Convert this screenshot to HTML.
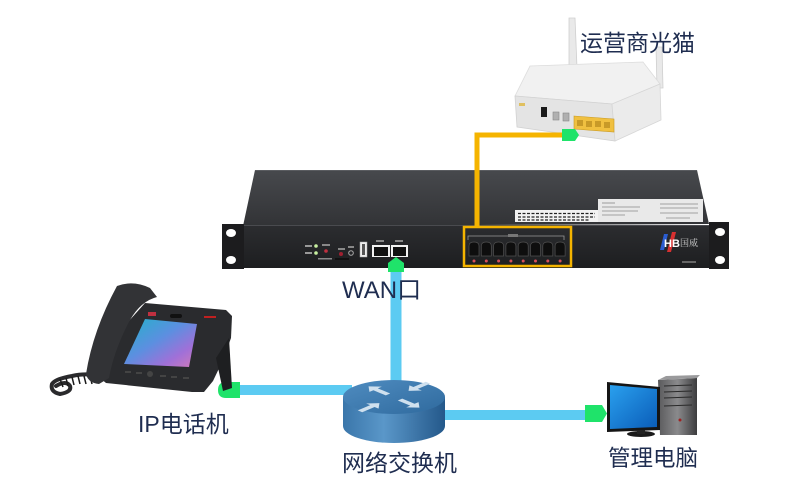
<!DOCTYPE html>
<html><head><meta charset="utf-8"><style>
html,body{margin:0;padding:0;background:#fff;}
svg{display:block;}
.lbl{font-family:"Liberation Sans","Noto Sans CJK SC",sans-serif;fill:#1f2d50;}
</style></head><body>
<svg width="800" height="500" viewBox="0 0 800 500" xmlns="http://www.w3.org/2000/svg">
<defs>
  <linearGradient id="topface" x1="0" y1="0" x2="0" y2="1">
    <stop offset="0" stop-color="#47494d"/><stop offset="1" stop-color="#323336"/>
  </linearGradient>
  <linearGradient id="front" x1="0" y1="0" x2="0" y2="1">
    <stop offset="0" stop-color="#2c2d30"/><stop offset="1" stop-color="#1d1e20"/>
  </linearGradient>
  <linearGradient id="rtop" x1="0" y1="0" x2="1" y2="1">
    <stop offset="0" stop-color="#4f8cc0"/><stop offset="1" stop-color="#2f6a9e"/>
  </linearGradient>
  <linearGradient id="rside" x1="0" y1="0" x2="1" y2="0">
    <stop offset="0" stop-color="#3a76aa"/><stop offset="0.4" stop-color="#5a97c9"/><stop offset="1" stop-color="#24588a"/>
  </linearGradient>
  <linearGradient id="scr" x1="0" y1="0" x2="1" y2="1">
    <stop offset="0" stop-color="#20b3c9"/><stop offset="0.45" stop-color="#5c8fe0"/><stop offset="0.75" stop-color="#a070d8"/><stop offset="1" stop-color="#d27ab8"/>
  </linearGradient>
  <linearGradient id="pcs" x1="0" y1="0" x2="1" y2="1">
    <stop offset="0" stop-color="#2aa0ee"/><stop offset="1" stop-color="#0a5cb8"/>
  </linearGradient>
  <linearGradient id="tower" x1="0" y1="0" x2="1" y2="0">
    <stop offset="0" stop-color="#5a5a5c"/><stop offset="0.5" stop-color="#8a8a8c"/><stop offset="1" stop-color="#3c3c3e"/>
  </linearGradient>
</defs>

<!-- ===== ONT (optical modem) ===== -->
<polygon points="569,18 575,18 577,68 569,68" fill="#e9e9e9" stroke="#cfcfcf" stroke-width="0.8"/>
<polygon points="656,47 662,47 663,88 657,88" fill="#e9e9e9" stroke="#cfcfcf" stroke-width="0.8"/>
<polygon points="530,66 643,62 660,84 612,104 515,96" fill="#f1f1f1" stroke="#dcdcdc" stroke-width="0.8"/>
<polygon points="515,96 612,104 615,141 517,127" fill="#e4e4e4" stroke="#d2d2d2" stroke-width="0.8"/>
<polygon points="612,104 660,84 661,120 615,141" fill="#ebebeb" stroke="#d6d6d6" stroke-width="0.8"/>
<rect x="519" y="103" width="6" height="3" fill="#e0c060"/>
<rect x="541" y="107" width="6" height="10" fill="#1a1a1a"/>
<rect x="553" y="112" width="6" height="8" fill="#b0b0b0" stroke="#888" stroke-width="0.6"/>
<rect x="563" y="113" width="6" height="8" fill="#b0b0b0" stroke="#888" stroke-width="0.6"/>
<polygon points="574,116 614,119 614,132 574,129" fill="#f0c040" stroke="#c99a20" stroke-width="0.6"/>
<rect x="577" y="120" width="6" height="6" fill="#c89a28"/>
<rect x="586" y="121" width="6" height="6" fill="#c89a28"/>
<rect x="595" y="121" width="6" height="6" fill="#c89a28"/>
<rect x="604" y="122" width="6" height="6" fill="#c89a28"/>

<!-- ===== Rack device ===== -->
<polygon points="255,170 697,170 709,224 243,226" fill="url(#topface)"/>
<line x1="255" y1="170.5" x2="697" y2="170.5" stroke="#5a5c60" stroke-width="1"/>
<!-- stickers -->
<rect x="515" y="210" width="83" height="12" fill="#f2f2f2"/>
<g stroke="#222" stroke-width="1.2" stroke-dasharray="3 1.5">
  <line x1="518" y1="213.5" x2="595" y2="213.5"/>
  <line x1="518" y1="217" x2="595" y2="217"/>
  <line x1="518" y1="220" x2="590" y2="220"/>
</g>
<rect x="598" y="199" width="105" height="23" fill="#e9e9e9"/>
<g stroke="#888" stroke-width="0.8">
  <line x1="602" y1="203" x2="615" y2="203"/>
  <line x1="602" y1="207" x2="640" y2="207"/>
  <line x1="602" y1="211" x2="638" y2="211"/>
  <line x1="602" y1="215" x2="625" y2="215"/>
  <line x1="660" y1="204" x2="698" y2="204"/>
  <line x1="660" y1="208" x2="698" y2="208"/>
  <line x1="660" y1="213" x2="698" y2="213"/>
  <line x1="666" y1="218" x2="690" y2="218"/>
</g>
<!-- front panel -->
<rect x="243" y="225" width="467" height="43" fill="url(#front)"/>
<line x1="243" y1="225.5" x2="710" y2="225.5" stroke="#4a4b4f" stroke-width="1"/>
<!-- ears -->
<rect x="222" y="224" width="22" height="45" fill="#1c1c1e"/>
<ellipse cx="231" cy="233" rx="5" ry="4" fill="#fff"/>
<ellipse cx="231" cy="260" rx="5" ry="4" fill="#fff"/>
<rect x="709" y="222" width="20" height="47" fill="#1c1c1e"/>
<ellipse cx="720" cy="232" rx="5" ry="4" fill="#fff"/>
<ellipse cx="720" cy="260" rx="5" ry="4" fill="#fff"/>
<!-- left panel details -->
<rect x="305" y="245" width="7" height="2" fill="#999"/>
<rect x="305" y="252" width="7" height="2" fill="#999"/>
<circle cx="316" cy="246" r="1.8" fill="#c8f0a0"/>
<circle cx="316" cy="253" r="1.8" fill="#c8f0a0"/>
<rect x="322" y="244" width="8" height="2" fill="#888"/>
<circle cx="326" cy="251" r="1.8" fill="#c03040"/>
<rect x="318" y="258" width="14" height="1.5" fill="#888"/>
<rect x="338" y="248" width="7" height="2" fill="#888"/>
<circle cx="341" cy="254" r="2" fill="#a02030"/>
<rect x="335" y="258" width="14" height="2" fill="#111"/>
<rect x="348" y="246" width="6" height="2" fill="#888"/>
<circle cx="351" cy="253" r="2.3" fill="none" stroke="#aaa" stroke-width="1"/>
<rect x="360" y="242" width="7" height="15" fill="#eee" stroke="#aaa" stroke-width="0.5"/>
<rect x="362" y="244" width="3" height="11" fill="#555"/>
<rect x="372" y="245" width="18" height="12" fill="#f2f2f2"/>
<rect x="374" y="247" width="14" height="9" fill="#111"/>
<rect x="391" y="245" width="17" height="12" fill="#f2f2f2"/>
<rect x="393" y="247" width="13" height="9" fill="#111"/>
<rect x="376" y="240" width="8" height="2" fill="#888"/>
<rect x="395" y="240" width="8" height="2" fill="#888"/>

<!-- orange line (over device top) -->
<path d="M477,228 V135 H566" fill="none" stroke="#f5b400" stroke-width="5"/>
<polygon points="562,129 575,129 579,135 575,141 562,141" fill="#1fe36a"/>

<!-- FXS box -->
<rect x="464" y="227" width="107" height="39" fill="none" stroke="#f5b400" stroke-width="2.5"/>
<polyline points="468,240 468,236 564,236 564,240" fill="none" stroke="#999" stroke-width="0.8"/>
<rect x="508" y="234" width="10" height="3" fill="#777"/>
<g fill="#0e0e0e" stroke="#505050" stroke-width="0.7">
  <path d="M469,256 V246 Q469,242 474,242 Q479,242 479,246 V256 Z"/>
  <path d="M481.3,256 V246 Q481.3,242 486.3,242 Q491.3,242 491.3,246 V256 Z"/>
  <path d="M493.6,256 V246 Q493.6,242 498.6,242 Q503.6,242 503.6,246 V256 Z"/>
  <path d="M505.9,256 V246 Q505.9,242 510.9,242 Q515.9,242 515.9,246 V256 Z"/>
  <path d="M518.2,256 V246 Q518.2,242 523.2,242 Q528.2,242 528.2,246 V256 Z"/>
  <path d="M530.5,256 V246 Q530.5,242 535.5,242 Q540.5,242 540.5,246 V256 Z"/>
  <path d="M542.8,256 V246 Q542.8,242 547.8,242 Q552.8,242 552.8,246 V256 Z"/>
  <path d="M555.1,256 V246 Q555.1,242 560.1,242 Q565.1,242 565.1,246 V256 Z"/>
</g>
<g fill="#d8505a">
  <circle cx="474" cy="261" r="1.5"/><circle cx="486.3" cy="261" r="1.5"/>
  <circle cx="498.6" cy="261" r="1.5"/><circle cx="510.9" cy="261" r="1.5"/>
  <circle cx="523.2" cy="261" r="1.5"/><circle cx="535.5" cy="261" r="1.5"/>
  <circle cx="547.8" cy="261" r="1.5"/><circle cx="560.1" cy="261" r="1.5"/>
</g>
<!-- logo -->
<polygon points="664,234 668,234 664,250 660,250" fill="#2a5cd0"/>
<polygon points="672,232 676,232 671,252 667,252" fill="#d83030"/>
<text x="664" y="247" font-family="Liberation Sans,sans-serif" font-size="11" font-weight="bold" fill="#fff">HB</text>
<text x="680" y="246" font-family="Liberation Serif,Noto Serif CJK SC,serif" font-size="9" fill="#cfcfcf">国威</text>
<rect x="682" y="261" width="14" height="2" fill="#666"/>

<!-- ===== Blue lines ===== -->
<line x1="396" y1="268" x2="396" y2="388" stroke="#5ccbf2" stroke-width="11"/>
<line x1="232" y1="390" x2="352" y2="390" stroke="#5ccbf2" stroke-width="10"/>
<line x1="440" y1="415" x2="592" y2="415" stroke="#5ccbf2" stroke-width="10"/>

<!-- green connectors -->
<polygon points="388,272 404,272 404,263 396,257 388,263" fill="#1fe36a"/>
<path d="M240,382 V398 H226 Q218,398 218,390 Q218,382 226,382 Z" fill="#1fe36a"/>
<polygon points="585,405 602,405 607,413.5 602,422 585,422" fill="#1fe36a"/>

<!-- ===== Router / switch ===== -->
<path d="M343,397 V426 A51,17 0 0 0 445,426 V397 Z" fill="url(#rside)"/>
<ellipse cx="394" cy="397" rx="51" ry="17" fill="url(#rtop)"/>
<g transform="translate(394,397) scale(1,0.42)" fill="#cfe0ee">
  <polygon transform="translate(-6,-6) rotate(-135) scale(1.25)" points="0,-2.5 14,-2.5 14,-7 22,0 14,7 14,2.5 0,2.5"/>
  <polygon transform="translate(6,6) rotate(45) scale(1.25)" points="0,-2.5 14,-2.5 14,-7 22,0 14,7 14,2.5 0,2.5"/>
  <polygon transform="translate(34,-34) rotate(135) scale(1.25)" points="0,-2.5 14,-2.5 14,-7 22,0 14,7 14,2.5 0,2.5"/>
  <polygon transform="translate(-34,34) rotate(-45) scale(1.25)" points="0,-2.5 14,-2.5 14,-7 22,0 14,7 14,2.5 0,2.5"/>
</g>

<!-- ===== IP phone ===== -->
<path d="M104,378 Q90,372 72,376 Q55,379 52,384 Q50,392 60,394 Q72,392 70,386 Q66,380 56,386" fill="none" stroke="#2a2a2c" stroke-width="4" stroke-linecap="round"/>
<path d="M60,379 l3,8 M66,378 l2,8 M72,377 l2,8 M78,376 l2,8 M84,376 l2,8 M90,376 l2,8" stroke="#1a1a1a" stroke-width="1.5"/>
<polygon points="145,303 226,310 232,316 231,338 223,360 213,381 204,392 192,392 106,383 100,378 112,340" fill="#2a2b2e"/>
<polygon points="216,358 229,338 232,388 223,391" fill="#1e1f21"/>
<path d="M117,286 Q133,280 150,288 L157,297 Q141,301 130,320 Q114,350 109,378 L99,384 Q88,383 86,374 Q93,330 117,286 Z" fill="#323336"/>
<polygon points="145,319 197,324 189,367 124,364" fill="url(#scr)"/>
<rect x="148" y="312" width="8" height="4" fill="#c03040"/>
<rect x="170" y="314" width="12" height="4" rx="2" fill="#111"/>
<rect x="204" y="316" width="12" height="2" fill="#c02020"/>
<g fill="#444">
  <rect x="125" y="371" width="6" height="2"/><rect x="136" y="372" width="6" height="2"/>
  <circle cx="150" cy="374" r="3"/>
  <rect x="160" y="375" width="6" height="2"/><rect x="171" y="376" width="6" height="2"/>
  <rect x="183" y="377" width="6" height="2"/>
</g>

<!-- ===== PC ===== -->
<polygon points="658,380 697,378 697,435 660,435" fill="url(#tower)"/>
<polygon points="658,380 666,376 700,375 697,378" fill="#9a9a9c"/>
<g stroke="#2a2a2a" stroke-width="1">
  <line x1="664" y1="386" x2="692" y2="385"/>
  <line x1="664" y1="392" x2="692" y2="391"/>
  <line x1="664" y1="398" x2="692" y2="397"/>
  <line x1="664" y1="406" x2="692" y2="405"/>
</g>
<circle cx="680" cy="420" r="1.5" fill="#a02020"/>
<polygon points="607,382 660,387 660,430 607,432" fill="#151515"/>
<polygon points="610,385 657,389 657,427 610,429" fill="url(#pcs)"/>
<ellipse cx="641" cy="434" rx="14" ry="3" fill="#1a1a1a"/>
<rect x="637" y="430" width="8" height="4" fill="#222"/>

<!-- ===== Labels ===== -->
<text class="lbl" x="580" y="51" font-size="23">运营商光猫</text>
<text class="lbl" x="342" y="298" font-size="24">WAN口</text>
<text class="lbl" x="138" y="432" font-size="23">IP电话机</text>
<text class="lbl" x="342" y="471" font-size="23">网络交换机</text>
<text class="lbl" x="608" y="466" font-size="22.5">管理电脑</text>
</svg>
</body></html>
